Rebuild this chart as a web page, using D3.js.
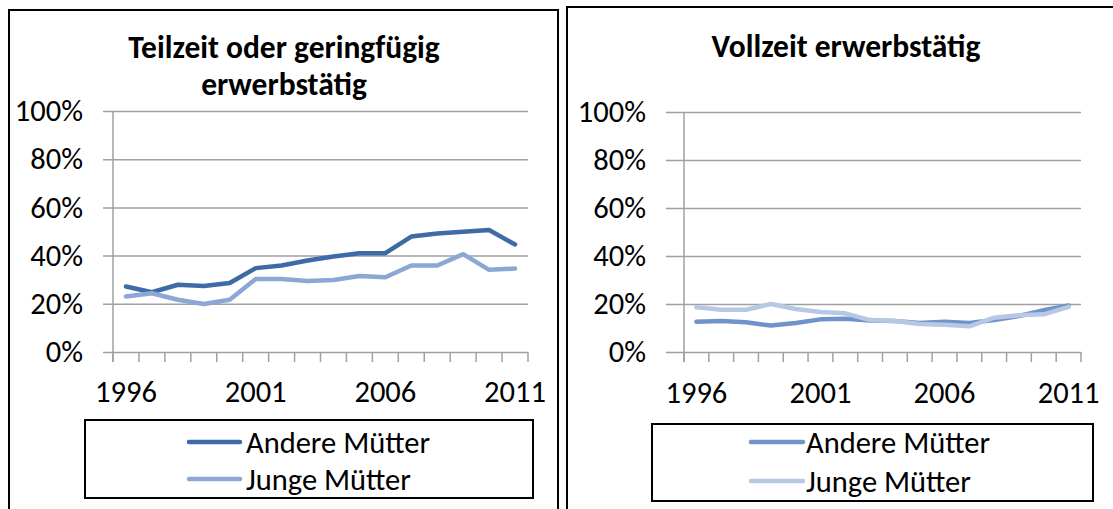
<!DOCTYPE html>
<html>
<head>
<meta charset="utf-8">
<script src="https://cdn.jsdelivr.net/npm/d3@7"></script>
<style>
  body { margin: 0; background: #fff; }
  text { font-family: Carlito, Lato, "Open Sans", sans-serif; fill: #000; }
</style>
</head>
<body>
<div id="chart"></div>
<script>
// Data
var years       = [1996, 1997, 1998, 1999, 2000, 2001, 2002, 2003, 2004, 2005, 2006, 2007, 2008, 2009, 2010, 2011];
var yearLabels  = [1996, 2001, 2006, 2011];
var pctTicks    = [0, 20, 40, 60, 80, 100];
var seriesNames = ['Andere Mütter', 'Junge Mütter'];

var teilAndere  = [27.2, 24.8, 27.9, 27.4, 28.6, 34.8, 35.9, 38.0, 39.6, 41.0, 41.0, 47.9, 49.2, 49.9, 50.6, 44.6];
var teilJunge   = [23.0, 24.4, 21.7, 19.9, 21.7, 30.3, 30.3, 29.5, 29.9, 31.5, 31.0, 35.9, 35.9, 40.6, 34.1, 34.6];
var vollAndere  = [12.6, 12.9, 12.4, 11.0, 12.1, 13.6, 13.9, 13.1, 12.9, 12.1, 12.6, 12.1, 13.3, 15.0, 17.4, 19.4];
var vollJunge   = [18.6, 17.6, 17.6, 20.0, 17.9, 16.7, 16.1, 13.3, 12.9, 11.7, 11.4, 10.7, 14.3, 15.3, 15.7, 18.8];

var chart_width  = 1113;
var chart_height = 509;
var label_size   = 30.5;
var title_size   = 31.5;

var svg = d3.select('#chart')
    .append('svg')
    .attr('width', chart_width)
    .attr('height', chart_height);

var panels = [
    {
        frame: [9, 10, 549, 520],
        title: ['Teilzeit oder geringfügig', 'erwerbstätig'],
        titleX: 284, titleY: 58,
        series: [teilAndere, teilJunge],
        colors: ['#3e6aa6', '#8ca7d3'],
        axisX: 113, gridX0: 103, right: 528,
        top: 111, bottom: 352,
        labelY: 402,
        legend: {x0: 85, y0: 420, x1: 533, y1: 498, lx0: 189, lx1: 240, tx: 246, rows: [442, 479]}
    },
    {
        frame: [567, 7, 560, 520],
        title: ['Vollzeit erwerbstätig'],
        titleX: 846, titleY: 57,
        series: [vollAndere, vollJunge],
        colors: ['#7093c9', '#b7c8e5'],
        axisX: 684, gridX0: 666, right: 1081,
        top: 112, bottom: 352,
        labelY: 403,
        legend: {x0: 652, y0: 424, x1: 1093, y1: 501, lx0: 751, lx1: 803, tx: 806, rows: [442, 481]}
    }
];

panels.forEach(function(p){
    var g = svg.append('g');

    g.append('rect')
        .attr('x', p.frame[0])
        .attr('y', p.frame[1])
        .attr('width', p.frame[2])
        .attr('height', p.frame[3])
        .attr('fill', '#fff')
        .attr('stroke', '#000')
        .attr('stroke-width', 2);

    // title
    g.append('text')
        .attr('x', p.titleX)
        .attr('y', p.titleY)
        .attr('text-anchor', 'middle')
        .attr('font-size', title_size)
        .attr('font-weight', 'bold')
        .selectAll('tspan')
        .data(p.title)
        .enter()
        .append('tspan')
        .attr('x', p.titleX)
        .attr('dy', (d, i) => i === 0 ? 0 : 37)
        .text((d) => d);

    var x = d3.scaleBand()
        .domain(years)
        .range([p.axisX, p.right]);

    var y = d3.scaleLinear()
        .domain([0, 100])
        .range([p.bottom, p.top]);

    // gridlines + y labels
    var yAxis = g.append('g')
        .attr('transform', 'translate(' + p.gridX0 + ',0)')
        .call(d3.axisLeft(y)
            .tickValues(pctTicks)
            .tickSizeInner(-(p.right - p.gridX0))
            .tickSizeOuter(0)
            .tickPadding(20)
            .tickFormat((d) => d + '%'));
    yAxis.select('.domain').remove();
    yAxis.selectAll('line')
        .attr('stroke', '#a0a0a0')
        .attr('stroke-width', 1.5);
    yAxis.selectAll('text')
        .attr('font-size', label_size)
        .attr('font-family', 'Carlito, Lato, "Open Sans", sans-serif');

    // vertical axis line
    g.append('line')
        .attr('x1', p.axisX).attr('x2', p.axisX)
        .attr('y1', y(100)).attr('y2', y(0) + 10)
        .attr('stroke', '#a0a0a0')
        .attr('stroke-width', 1.5);

    // x tick marks at category boundaries
    var bounds = years.map((d) => x(d)).concat([p.right]);
    g.selectAll('.xtick')
        .data(bounds)
        .enter()
        .append('line')
        .attr('x1', (d) => d).attr('x2', (d) => d)
        .attr('y1', y(0)).attr('y2', y(0) + 10)
        .attr('stroke', '#a0a0a0')
        .attr('stroke-width', 1.5);

    // x labels
    var xAxis = g.append('g')
        .attr('transform', 'translate(0,' + p.labelY + ')')
        .call(d3.axisBottom(x)
            .tickValues(yearLabels)
            .tickSize(0)
            .tickPadding(0));
    xAxis.select('.domain').remove();
    xAxis.selectAll('text')
        .attr('dy', 0)
        .attr('font-size', label_size)
        .attr('font-family', 'Carlito, Lato, "Open Sans", sans-serif');

    // lines
    var line = d3.line()
        .x((d, i) => x(years[i]) + x.bandwidth() / 2)
        .y((d) => y(d));

    p.series.forEach(function(s, i){
        g.append('path')
            .datum(s)
            .attr('d', line)
            .attr('fill', 'none')
            .attr('stroke', p.colors[i])
            .attr('stroke-width', 4.5)
            .attr('stroke-linejoin', 'round')
            .attr('stroke-linecap', 'round');
    });

    // legend
    var L = p.legend;
    g.append('rect')
        .attr('x', L.x0)
        .attr('y', L.y0)
        .attr('width', L.x1 - L.x0)
        .attr('height', L.y1 - L.y0)
        .attr('fill', '#fff')
        .attr('stroke', '#000')
        .attr('stroke-width', 2);

    seriesNames.forEach(function(name, i){
        g.append('line')
            .attr('x1', L.lx0).attr('x2', L.lx1)
            .attr('y1', L.rows[i]).attr('y2', L.rows[i])
            .attr('stroke', p.colors[i])
            .attr('stroke-width', 4.5)
            .attr('stroke-linecap', 'round');
        g.append('text')
            .attr('x', L.tx)
            .attr('y', L.rows[i])
            .attr('dy', '0.35em')
            .attr('font-size', label_size)
            .text(name);
    });
});
</script>
</body>
</html>
